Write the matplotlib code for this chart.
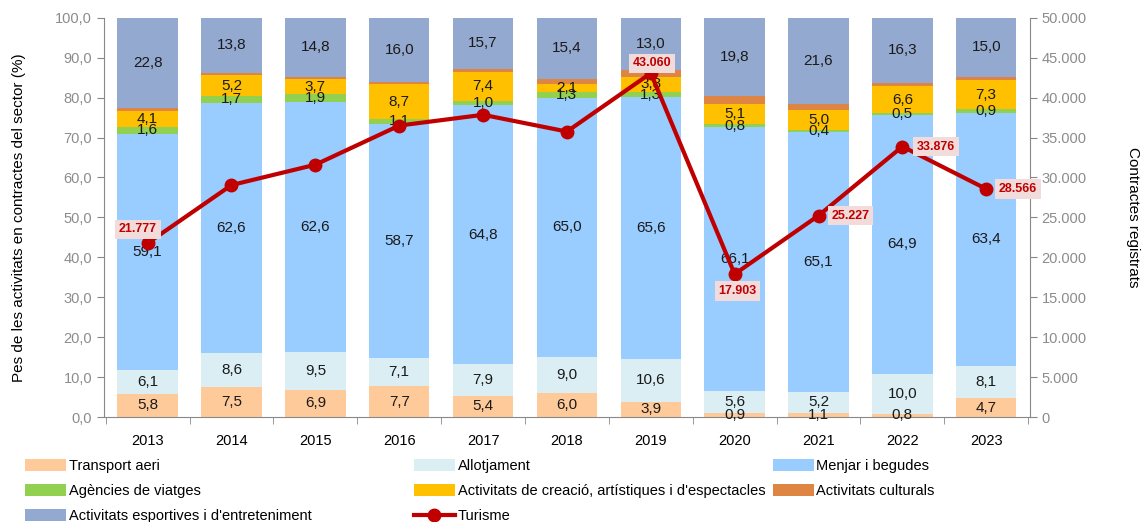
import numpy as np
import matplotlib
matplotlib.use("Agg")
from matplotlib import pyplot as plt
from matplotlib.ticker import FuncFormatter, FixedLocator

plt.rcParams['font.family'] = ['Liberation Sans', 'DejaVu Sans']

years = ["2013", "2014", "2015", "2016", "2017", "2018", "2019", "2020", "2021", "2022", "2023"]

transport = [5.8, 7.5, 6.9, 7.7, 5.4, 6.0, 3.9, 0.9, 1.1, 0.8, 4.7]
allotjament = [6.1, 8.6, 9.5, 7.1, 7.9, 9.0, 10.6, 5.6, 5.2, 10.0, 8.1]
menjar = [59.1, 62.6, 62.6, 58.7, 64.8, 65.0, 65.6, 66.1, 65.1, 64.9, 63.4]
agencies = [1.6, 1.7, 1.9, 1.1, 1.0, 1.3, 1.3, 0.8, 0.4, 0.5, 0.9]
creacio = [4.1, 5.2, 3.7, 8.7, 7.4, 2.1, 3.8, 5.1, 5.0, 6.6, 7.3]
culturals = [0.6, 0.6, 0.6, 0.7, 0.7, 1.2, 1.8, 1.8, 1.7, 0.9, 0.7]
esportives = [22.8, 13.8, 14.8, 16.0, 15.7, 15.4, 13.0, 19.8, 21.6, 16.3, 15.0]

turisme = [21777, 29050, 31600, 36500, 37850, 35750, 43060, 17903, 25227, 33876, 28566]
turisme_labelled = [True, False, False, False, False, False, True, True, True, True, True]

series = [
    ("Transport aeri", transport, "#FFCA99", True),
    ("Allotjament", allotjament, "#DAEEF3", True),
    ("Menjar i begudes", menjar, "#99CCFF", True),
    ("Agències de viatges", agencies, "#92D050", True),
    ("Activitats de creació, artístiques i d'espectacles", creacio, "#FFC000", True),
    ("Activitats culturals", culturals, "#DE8543", False),
    ("Activitats esportives i d'entreteniment", esportives, "#94A9CF", True),
]

fig = plt.figure(figsize=(11.43, 5.22), dpi=100)
ax1 = fig.add_axes([0.091, 0.201, 0.810, 0.765])

x = np.arange(len(years))
bottom = np.zeros(len(years))
handles = {}
for name, vals, col, lab in series:
    bars = ax1.bar(x, vals, 0.72, bottom=bottom, color=col, label=name, zorder=2)
    handles[name] = bars
    if lab:
        ax1.bar_label(bars, labels=[f"{v:.1f}".replace(".", ",") for v in vals],
                      label_type="center", fontsize=11, color="#1a1a1a")
    bottom += np.array(vals)

ax1.set_xlim(-0.52, len(years) - 0.48)
ax1.set_ylim(0, 100)
ax1.set_yticks(np.arange(0, 101, 10))
ax1.yaxis.set_major_formatter(FuncFormatter(lambda v, p: f"{v:.1f}".replace(".", ",")))
ax1.set_xticks(x)
ax1.set_xticklabels(years, fontsize=10.5)
ax1.xaxis.set_minor_locator(FixedLocator(np.arange(-0.5, len(years), 1.0)))
ax1.tick_params(axis="x", which="major", length=0, pad=12)
ax1.tick_params(axis="x", which="minor", length=5, color="#888888")
ax1.tick_params(axis="y", labelsize=10.5, labelcolor="#8c8c8c", color="#888888", length=5)
ax1.set_ylabel("Pes de les activitats en contractes del sector (%)", fontsize=11, labelpad=21)
for s in ["top", "right"]:
    ax1.spines[s].set_visible(False)
for s in ["left", "bottom"]:
    ax1.spines[s].set_color("#888888")

ax2 = ax1.twinx()
(line,) = ax2.plot(x, turisme, color="#C00000", lw=3, marker="o", ms=9, label="Turisme", zorder=5)
ax2.set_ylim(0, 50000)
ax2.set_yticks(np.arange(0, 50001, 5000))
ax2.yaxis.set_major_formatter(FuncFormatter(lambda v, p: f"{v:,.0f}".replace(",", ".")))
ax2.tick_params(axis="y", labelsize=10.5, labelcolor="#8c8c8c", color="#888888", length=5)
ax2.set_ylabel("Contractes registrats", fontsize=11, rotation=270, labelpad=38)
for s in ["top", "left", "bottom"]:
    ax2.spines[s].set_visible(False)
ax2.spines["right"].set_color("#888888")

# where each Turisme label sits relative to its point (points)
offsets = {0: (-7, 10), 6: (1, 7), 7: (2, -12), 8: (23, 0), 9: (24, 0), 10: (23, 0)}
for i, v in enumerate(turisme):
    if not turisme_labelled[i]:
        continue
    dx, dy = offsets[i]
    ax2.annotate(f"{v:,}".replace(",", "."), (x[i], v), xytext=(dx, dy),
                 textcoords="offset points", ha="center", va="center",
                 fontsize=9, fontweight="bold", color="#C00000", zorder=6,
                 bbox=dict(boxstyle="square,pad=0.3", fc="#F2DCDB", ec="none"))

hmap = dict(handles)
hmap["Turisme"] = line
columns = [
    (["Transport aeri", "Agències de viatges", "Activitats esportives i d'entreteniment"], 0.022),
    (["Allotjament", "Activitats de creació, artístiques i d'espectacles", "Turisme"], 0.362),
    (["Menjar i begudes", "Activitats culturals"], 0.676),
]
for names, xpos in columns:
    fig.legend([hmap[k] for k in names], names, loc="upper left",
               bbox_to_anchor=(xpos, 0.12), frameon=False, borderaxespad=0,
               fontsize=10.5, handlelength=2.8, handleheight=0.9, handletextpad=0.2,
               labelspacing=0.74, borderpad=0.0)

plt.savefig("out.png", dpi=100)
